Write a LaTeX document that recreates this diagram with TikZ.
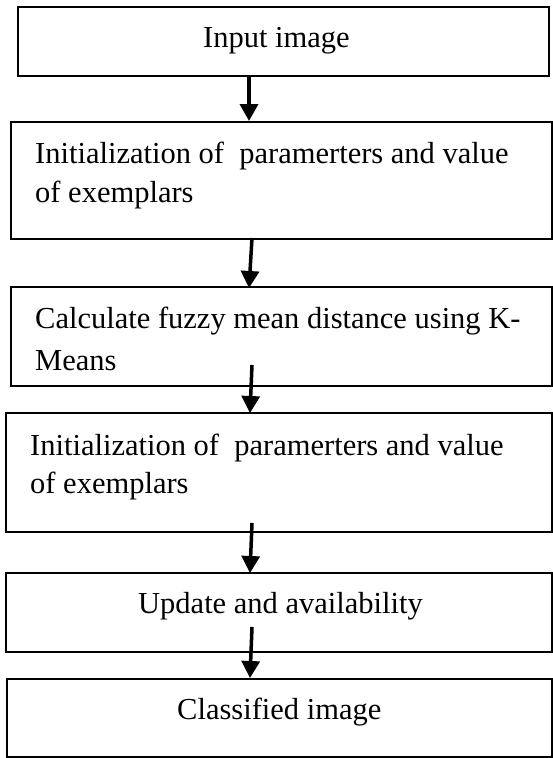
\documentclass[tikz,border=0pt]{standalone}
\usepackage{fontspec}
\setmainfont{Liberation Serif}
\usetikzlibrary{arrows.meta}
\begin{document}
\begin{tikzpicture}[x=1bp,y=-1bp,
  box/.style={draw=black,line width=1.8bp,inner sep=0pt,fill=none},
  txt/.style={anchor=base west,inner sep=0pt,font=\fontsize{30.5bp}{36bp}\selectfont},
  arr/.style={line width=3.5bp,-{Triangle[length=17bp,width=18bp]}}]
\useasboundingbox (0,0) rectangle (553,758);
\fill[white] (0,0) rectangle (553,758);
% boxes
\node[box,line width=2.2bp,minimum width=531bp,minimum height=69bp] (b1) at (283.5,41.5) {};
\node[box,minimum width=541bp,minimum height=117bp] (b2) at (281.5,180.5) {};
\node[box,minimum width=541bp,minimum height=99bp] (b3) at (281.5,336.5) {};
\node[box,minimum width=546bp,minimum height=119bp] (b4) at (279,472.5) {};
\node[box,minimum width=546bp,minimum height=79bp] (b5) at (279,612.5) {};
\node[box,minimum width=545bp,minimum height=78bp] (b6) at (279.5,718) {};
% texts
\node[txt] (t1) at (203,48) {Input image};
\node[txt] (t2a) at (35,163) {Initialization of \ paramerters and value};
\node[txt] (t2b) at (35,202) {of exemplars};
\node[txt] (t3a) at (35,328) {Calculate fuzzy mean distance using K-};
\node[txt] (t3b) at (35,370) {Means};
\node[txt] (t4a) at (30,455) {Initialization of \ paramerters and value};
\node[txt] (t4b) at (30,493) {of exemplars};
\node[txt] (t5) at (138,613) {Update and availability};
\node[txt] (t6) at (177,719) {Classified image};
% arrow start points inside boxes
\coordinate (s1) at (249,76);
\coordinate (e1) at (249,121);
\coordinate (s2) at (252,238);
\coordinate (e2) at (249,288);
\coordinate (s3) at (252,365);
\coordinate (e3) at (250,413);
\coordinate (s4) at (252,523);
\coordinate (e4) at (250,573);
\coordinate (s5) at (252,627);
\coordinate (e5) at (250,678);
\draw[arr] (s1) -- (e1);
\draw[arr] (s2) -- (e2);
\draw[arr] (s3) -- (e3);
\draw[arr] (s4) -- (e4);
\draw[arr] (s5) -- (e5);
\end{tikzpicture}
\end{document}
